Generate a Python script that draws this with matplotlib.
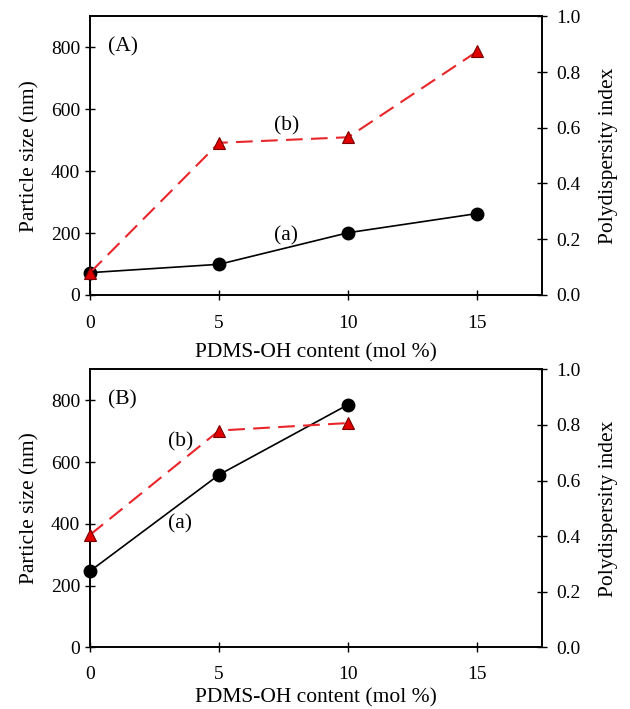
import matplotlib.pyplot as plt

plt.rcParams['font.family'] = ['Liberation Serif', 'DejaVu Serif']

# panel A
xa = [0, 5, 10, 15]
size_a = [72, 99, 201, 263]
pdi_a = [0.08, 0.546, 0.566, 0.874]

# panel B
xb = [0, 5, 10]
size_b = [247, 559, 786]
pdi_b = [0.405, 0.78, 0.807]

xticks = [0, 5, 10, 15]
yticks_left = [0, 200, 400, 600, 800]
yticks_right = [0.0, 0.2, 0.4, 0.6, 0.8, 1.0]

fig = plt.figure(figsize=(6.3, 7.09), dpi=100)


def panel(rect, x, size, pdi, tag, pos_a, pos_b, xpad, tpad):
    ax = fig.add_axes(rect)
    ax2 = ax.twinx()
    ax.plot(x, size, color='black', lw=1.2, marker='o', ms=9, zorder=3,
            clip_on=False)
    ax2.plot(x, pdi, color='#e8262a', lw=1.5, dashes=(8, 4), marker='^',
             ms=8, mfc='#e00000', mec='#7a0000', mew=0.8, zorder=3,
             clip_on=False)
    ax.set_xlim(0, 17.5)
    ax.set_ylim(0, 900)
    ax2.set_ylim(0, 1.0)
    ax.set_xticks(xticks)
    ax.set_yticks(yticks_left)
    ax2.set_yticks(yticks_right)
    ax2.set_yticklabels([f'{v:.1f}' for v in yticks_right])
    for a in (ax, ax2):
        a.tick_params(direction='inout', length=7, width=1, labelsize=14)
        for s in a.spines.values():
            s.set_linewidth(1.2)
    ax.tick_params(axis='x', pad=tpad)
    ax2.tick_params(axis='y', pad=7)
    ax.set_ylabel('Particle size (nm)', fontsize=15.5, labelpad=8)
    ax2.set_ylabel('Polydispersity index', fontsize=15.5, labelpad=13)
    ax.set_xlabel('PDMS-OH content (mol %)', fontsize=15.5, labelpad=xpad)
    ax.text(0.7, 800, tag, fontsize=15.5, va='center')
    ax.text(pos_a[0], pos_a[1], '(a)', fontsize=15.5, ha='center', va='center')
    ax.text(pos_b[0], pos_b[1], '(b)', fontsize=15.5, ha='center', va='center')
    return ax


panel([0.143, 0.584, 0.717, 0.393], xa, size_a, pdi_a, '(A)', (7.6, 190), (7.6, 545), 8, 11)
panel([0.143, 0.087, 0.717, 0.392], xb, size_b, pdi_b, '(B)', (3.5, 401), (3.5, 664), 4, 10)

fig.savefig('out.png', dpi=100)
